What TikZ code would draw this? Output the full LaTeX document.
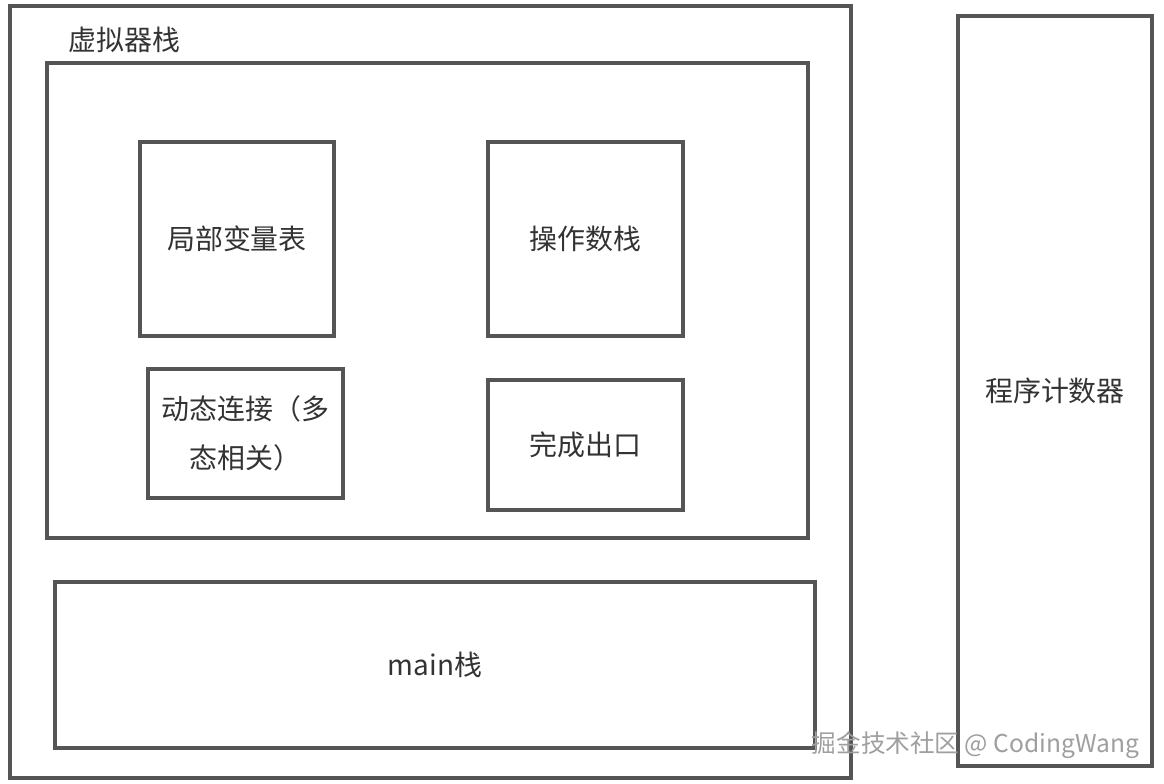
\documentclass[tikz,border=0pt]{standalone}
\usepackage{fontspec}
\setmainfont{Noto Sans CJK SC}
\usepackage{xcolor}
\usepackage{tikz}
\usetikzlibrary{positioning}
\definecolor{edge}{HTML}{555555}
\definecolor{ink}{HTML}{333333}
\tikzset{
  box/.style={draw=edge, line width=2.1pt, fill=white, text=ink,
              font=\fontsize{15.9}{28}\selectfont, align=center,
              inner sep=0pt},
  title/.style={text=ink, font=\fontsize{15.9}{28}\selectfont, inner sep=0pt},
  wm/.style={text=gray!75, font=\fontsize{14}{16}\selectfont, inner sep=0pt}
}
\begin{document}
\begin{tikzpicture}
  \useasboundingbox[fill=white] (0,0) rectangle (23.28,-15.68);
  % outer frames
  \node[box, minimum width=16.82cm, minimum height=15.44cm] (vmstack) at (8.61,-7.84) {};
  \node[title, anchor=west] (vmlabel) at (1.36,-0.8) {虚拟器栈};
  \node[box, minimum width=15.22cm, minimum height=9.5cm] (frame) at (8.55,-6.01) {};
  % Row A
  \node[box, minimum width=3.88cm, minimum height=3.88cm] (locals) at (4.74,-4.78) {局部变量表};
  \node[box, minimum width=3.9cm, minimum height=3.88cm] (operand) at (11.71,-4.78) {操作数栈};
  % Row B
  \node[box, minimum width=3.9cm, minimum height=2.58cm, text width=3.4cm] (dynlink) at (4.91,-8.67) {动态连接（多\\态相关）};
  \node[box, minimum width=3.9cm, minimum height=2.6cm] (retaddr) at (11.71,-8.9) {完成出口};
  % main stack and pc
  \node[box, minimum width=15.2cm, minimum height=3.32cm] (mainstack) at (8.7,-13.3) {main栈};
  \node[box, minimum width=3.88cm, minimum height=15.0cm] (pc) at (21.1,-7.82) {程序计数器};
  \node[wm] (mark) at (19.51,-14.9) {掘金技术社区 @ CodingWang};
\end{tikzpicture}
\end{document}
